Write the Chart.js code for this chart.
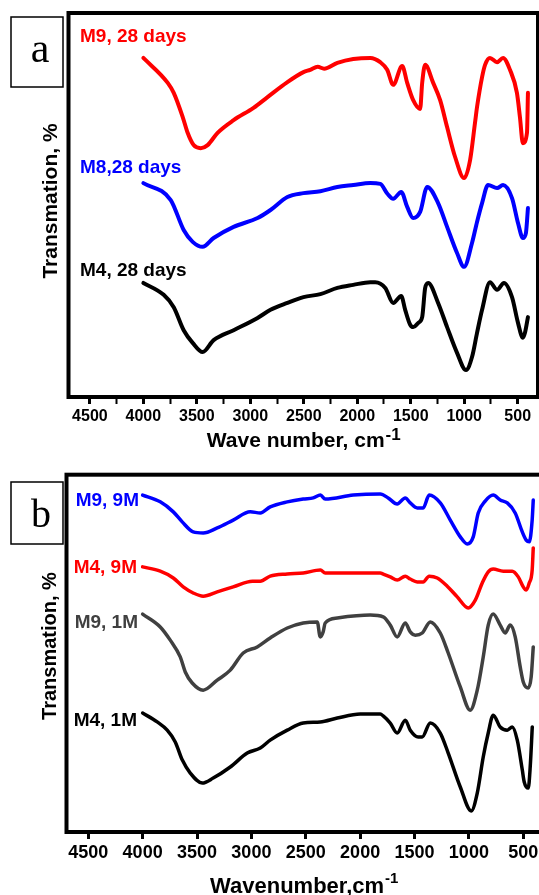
<!DOCTYPE html>
<html>
<head>
<meta charset="utf-8">
<script src="https://cdn.jsdelivr.net/npm/chart.js@4"></script>
<style>
  html, body { margin: 0; padding: 0; background: #fff; overflow: hidden; width: 539px; height: 895px; }
  #pa { position: absolute; left: 0; top: 0; width: 539px; height: 450px; }
  #pb { position: absolute; left: 0; top: 450px; width: 546px; height: 445px; }
</style>
</head>
<body>
<div id="pa"><canvas id="chartA"></canvas></div>
<div id="pb"><canvas id="chartB"></canvas></div>
<script>
// FTIR spectra, [wavenumber cm-1, transmission (offset, arb. units)]
const m9_28days = [[4000,88.3],[3772,81.8],[3716,79.2],[3632,72.9],[3586,68.8],[3530,65.6],[3464,64.8],[3399,65.6],[3306,68.8],[3156,72.1],[2970,75.3],[2839,78.1],[2653,82.0],[2503,84.6],[2440,85.2],[2370,86.0],[2310,85.5],[2186,87.0],[2037,88.0],[1878,88.3],[1785,87.2],[1720,85.2],[1664,81.3],[1580,86.2],[1533,81.8],[1477,77.3],[1412,75.0],[1393,81.8],[1365,86.5],[1290,81.8],[1225,77.3],[1160,70.3],[1085,62.5],[1001,57.0],[945,61.7],[899,71.4],[880,75.5],[833,83.3],[805,86.5],[759,88.3],[693,87.2],[637,88.3],[572,85.2],[507,79.2],[479,72.9],[451,66.1],[413,68.8],[404,79.2]];
const m8_28days = [[4000,55.7],[3744,51.3],[3623,43.5],[3539,40.4],[3446,39.1],[3343,41.4],[3156,44.3],[2932,46.6],[2811,48.7],[2653,52.1],[2503,53.1],[2345,53.6],[2186,54.7],[2037,55.2],[1878,55.7],[1785,55.5],[1720,53.0],[1664,51.6],[1589,53.4],[1533,49.5],[1477,46.6],[1412,48.2],[1346,54.7],[1244,50.5],[1160,44.3],[1067,37.5],[1001,33.9],[927,40.1],[880,45.6],[833,50.5],[777,55.2],[693,54.4],[637,55.2],[553,51.8],[497,45.3],[451,41.4],[423,42.7],[404,49.2]];
const m4_28days = [[4000,29.7],[3810,26.6],[3716,23.4],[3623,17.4],[3539,14.1],[3446,11.7],[3343,14.8],[3156,17.4],[2932,20.6],[2811,22.7],[2653,24.5],[2503,26.0],[2345,26.8],[2186,28.4],[2037,29.2],[1878,29.9],[1832,29.9],[1738,28.4],[1664,24.5],[1589,26.3],[1552,22.7],[1505,18.8],[1477,18.2],[1430,19.3],[1393,20.8],[1365,28.4],[1337,29.7],[1244,24.5],[1160,18.2],[1067,11.5],[983,7.0],[927,10.4],[880,16.7],[833,22.7],[759,29.9],[693,27.9],[628,29.7],[553,26.0],[497,19.3],[451,15.4],[432,16.7],[404,20.8]];

const m9_9m = [[4000,94.3],[3838,92.4],[3718,89.6],[3636,86.8],[3535,84.0],[3443,83.7],[3314,85.1],[3167,87.3],[3010,89.6],[2918,89.3],[2827,91.0],[2670,92.4],[2523,93.2],[2431,93.5],[2365,94.3],[2321,93.2],[2063,94.3],[1815,94.6],[1742,93.5],[1659,91.8],[1585,93.5],[1539,92.1],[1475,90.7],[1420,90.7],[1365,94.3],[1263,92.1],[1171,87.3],[1079,82.6],[1015,80.6],[960,82.6],[914,89.3],[850,92.6],[776,94.3],[712,92.9],[647,92.1],[574,89.3],[509,84.0],[473,81.7],[445,81.2],[418,87.3],[408,92.9]];
const m4_9m = [[4000,74.2],[3838,73.0],[3718,71.1],[3627,68.6],[3535,66.9],[3443,66.0],[3314,67.2],[3167,68.6],[2990,70.2],[2918,70.2],[2827,71.6],[2670,72.2],[2523,72.5],[2365,73.3],[2321,72.5],[2063,72.5],[1815,72.5],[1788,72.2],[1723,71.4],[1659,70.5],[1585,71.6],[1539,70.8],[1475,70.0],[1420,70.0],[1365,71.6],[1291,71.1],[1199,68.8],[1107,65.8],[1006,62.7],[941,64.9],[877,69.7],[822,72.8],[776,73.6],[684,73.0],[601,73.0],[546,71.4],[500,68.6],[473,67.7],[445,69.7],[418,73.3],[408,79.5]];
const m9_1m = [[4000,61.0],[3838,57.4],[3746,53.7],[3654,49.0],[3608,44.8],[3544,41.7],[3443,39.7],[3314,42.5],[3194,45.3],[3075,50.1],[2946,51.8],[2827,54.3],[2670,57.1],[2523,58.5],[2394,58.8],[2367,54.6],[2340,56.0],[2321,58.5],[2210,59.9],[1907,60.7],[1788,60.2],[1723,57.9],[1659,54.6],[1585,58.5],[1539,56.0],[1493,55.1],[1429,55.7],[1355,58.8],[1263,55.7],[1190,50.1],[1079,40.6],[988,34.1],[923,39.7],[868,49.0],[822,57.9],[776,61.0],[712,57.9],[666,55.7],[620,57.9],[574,54.6],[528,46.2],[500,42.0],[454,40.3],[427,43.4],[408,51.8]];
const m4_1m = [[4000,33.3],[3866,30.8],[3774,28.5],[3700,25.2],[3636,20.2],[3562,16.5],[3452,13.7],[3351,15.1],[3194,18.2],[3038,22.1],[2918,23.5],[2827,25.7],[2670,28.5],[2523,30.5],[2367,30.8],[2210,31.9],[1999,33.0],[1815,33.0],[1788,32.5],[1723,30.5],[1659,27.7],[1585,31.3],[1539,28.5],[1466,26.6],[1429,26.6],[1355,30.5],[1263,27.7],[1190,22.1],[1079,12.6],[978,5.9],[923,10.9],[868,21.0],[822,27.7],[776,32.7],[712,29.4],[647,28.5],[601,29.4],[555,25.7],[509,17.4],[491,14.0],[454,12.3],[436,18.2],[417,29.4]];

const tickLabels = [500, 1000, 1500, 2000, 2500, 3000, 3500, 4000, 4500];
const minorTicks = [750, 1250, 1750, 2250, 2750, 3250, 3750, 4250];

const FONT = '"Liberation Sans", Arial, sans-serif';
const SERIF = '"Liberation Serif", "Times New Roman", serif';

function toXY(arr) {
    return arr.map(p => ({ x: p[0], y: p[1] }));
}

function line(data, color, width) {
    return {
        data: toXY(data),
        borderColor: color,
        borderWidth: width,
        pointRadius: 0,
        fill: false,
        cubicInterpolationMode: 'monotone',
        borderJoinStyle: 'round',
        borderCapStyle: 'round'
    };
}

// frame, panel letter, curve names and axis titles
const decor = {
    id: 'decor',
    afterDraw(chart, args, o) {
        const { ctx, chartArea: a } = chart;
        ctx.save();
        ctx.strokeStyle = '#000';
        ctx.lineWidth = 4;
        ctx.strokeRect(a.left, a.top, a.right - a.left, a.bottom - a.top);

        ctx.lineWidth = 1.5;
        ctx.strokeRect(o.box.x, o.box.y, o.box.w, o.box.h);
        ctx.fillStyle = '#000';
        ctx.font = o.box.size + 'px ' + SERIF;
        ctx.textAlign = 'center';
        ctx.textBaseline = 'alphabetic';
        ctx.fillText(o.box.letter, o.box.lx, o.box.ly);

        ctx.font = 'bold ' + o.labelSize + 'px ' + FONT;
        o.labels.forEach(l => {
            ctx.fillStyle = l.color;
            ctx.textAlign = l.align;
            ctx.fillText(l.text, l.x, l.y);
        });

        // x title with superscript
        const t = o.xTitle;
        ctx.fillStyle = '#000';
        ctx.textAlign = 'left';
        ctx.font = 'bold ' + t.size + 'px ' + FONT;
        const w1 = ctx.measureText(t.main).width;
        ctx.font = 'bold ' + t.supSize + 'px ' + FONT;
        const w2 = ctx.measureText(t.sup).width;
        const x0 = (a.left + a.right) / 2 - (w1 + w2) / 2 + t.shift;
        ctx.font = 'bold ' + t.size + 'px ' + FONT;
        ctx.fillText(t.main, x0, t.y);
        ctx.font = 'bold ' + t.supSize + 'px ' + FONT;
        ctx.fillText(t.sup, x0 + w1 + 1, t.supY);

        // y title
        const y = o.yTitle;
        ctx.translate(y.x, y.y);
        ctx.rotate(-Math.PI / 2);
        ctx.font = 'bold ' + y.size + 'px ' + FONT;
        ctx.textAlign = 'center';
        ctx.textBaseline = 'middle';
        ctx.fillText(y.text, 0, 0);
        ctx.restore();
    }
};

function xAxis(min, max, tickValues, height, fontSize, pad) {
    return {
        type: 'linear',
        reverse: true,
        min: min,
        max: max,
        afterFit: s => { s.height = height; },
        afterBuildTicks: s => {
            s.ticks = tickValues.slice().sort((p, q) => p - q).map(v => ({ value: v }));
        },
        border: { display: false },
        grid: {
            drawOnChartArea: false,
            drawTicks: true,
            tickLength: 7,
            tickColor: '#000',
            tickWidth: c => (c.tick && tickLabels.includes(c.tick.value)) ? 3 : 2
        },
        ticks: {
            autoSkip: false,
            maxRotation: 0,
            minRotation: 0,
            padding: pad,
            color: '#000',
            font: { family: FONT, size: fontSize, weight: 'bold' },
            callback: v => tickLabels.includes(v) ? String(v) : ''
        }
    };
}

new Chart(document.getElementById('chartA'), {
    type: 'line',
    data: {
        datasets: [
            line(m9_28days, '#ff0000', 4),
            line(m8_28days, '#0000ff', 4),
            line(m4_28days, '#000000', 4)
        ]
    },
    options: {
        responsive: true,
        maintainAspectRatio: false,
        animation: false,
        layout: { padding: { left: 68.5, top: 13, right: 1, bottom: 0 } },
        plugins: {
            legend: { display: false },
            tooltip: { enabled: false },
            decor: {
                box: { x: 11, y: 17, w: 52, h: 70, letter: 'a', lx: 40, ly: 62, size: 42 },
                labelSize: 19,
                labels: [
                    { text: 'M9, 28 days', color: '#ff0000', x: 80, y: 42, align: 'left' },
                    { text: 'M8,28 days', color: '#0000ff', x: 80, y: 173, align: 'left' },
                    { text: 'M4, 28 days', color: '#000000', x: 80, y: 276, align: 'left' }
                ],
                xTitle: { main: 'Wave number, cm', sup: '-1', size: 21, supSize: 17, y: 447, supY: 440, shift: 0 },
                yTitle: { text: 'Transmation, %', x: 51, y: 201, size: 21 }
            }
        },
        scales: {
            x: xAxis(310, 4700, tickLabels.concat(minorTicks), 53, 16, 3),
            y: { display: false, min: 0, max: 100 }
        }
    },
    plugins: [decor]
});

new Chart(document.getElementById('chartB'), {
    type: 'line',
    data: {
        datasets: [
            line(m9_9m, '#0000ff', 3.5),
            line(m4_9m, '#ff0000', 3.5),
            line(m9_1m, '#404040', 3.5),
            line(m4_1m, '#000000', 3.5)
        ]
    },
    options: {
        responsive: true,
        maintainAspectRatio: false,
        animation: false,
        layout: { padding: { left: 66.5, top: 24.7, right: 1, bottom: 0 } },
        plugins: {
            legend: { display: false },
            tooltip: { enabled: false },
            decor: {
                box: { x: 11, y: 32, w: 52, h: 62, letter: 'b', lx: 41, ly: 77, size: 40 },
                labelSize: 19,
                labels: [
                    { text: 'M9, 9M', color: '#0000ff', x: 139, y: 56, align: 'right' },
                    { text: 'M4, 9M', color: '#ff0000', x: 137, y: 123, align: 'right' },
                    { text: 'M9, 1M', color: '#404040', x: 138, y: 178, align: 'right' },
                    { text: 'M4, 1M', color: '#000000', x: 137, y: 276, align: 'right' }
                ],
                xTitle: { main: 'Wavenumber,cm', sup: '-1', size: 22, supSize: 15, y: 443, supY: 433, shift: -2 },
                yTitle: { text: 'Transmation, %', x: 50, y: 196, size: 20 }
            }
        },
        scales: {
            x: xAxis(300, 4700, tickLabels, 63, 18, 3),
            y: { display: false, min: 0, max: 100 }
        }
    },
    plugins: [decor]
});
</script>
</body>
</html>
